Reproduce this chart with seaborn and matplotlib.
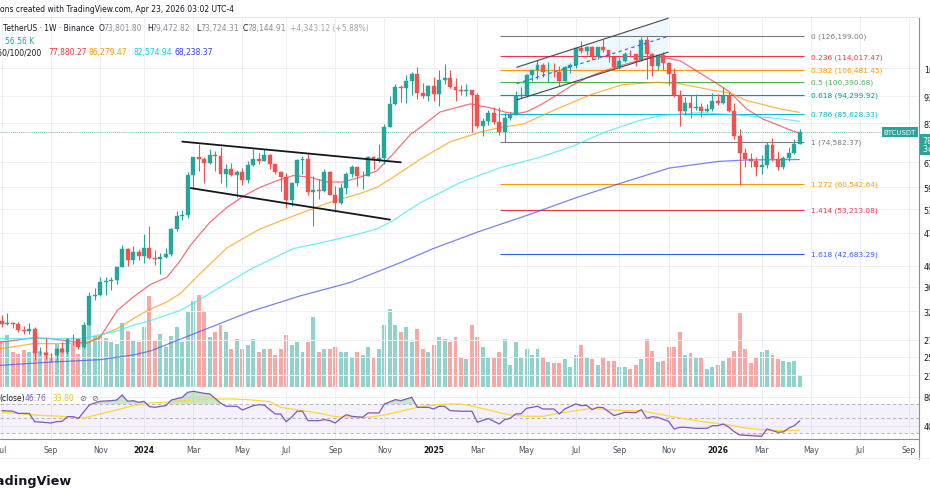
import matplotlib
matplotlib.use("Agg")
import matplotlib.pyplot as plt
import numpy as np
import pandas as pd
import seaborn as sns
from matplotlib.lines import Line2D
from matplotlib.patches import Rectangle
from matplotlib.ticker import NullLocator, NullFormatter

sns.set_theme(style="white")
plt.rcParams["font.family"] = ["DejaVu Sans"]

# weekly BTCUSDT candles in k USDT, week 0 = Mon 2024-01-01
first_week = -26
opens = [30.59, 30.17, 30.28, 30.08, 29.28, 29.05, 29.40, 26.09, 26.10, 25.83,
         25.78, 26.53, 26.25, 27.96, 27.93, 26.86, 29.98, 34.52, 34.73, 37.06,
         37.36, 37.45, 39.97, 43.79, 41.38, 42.99, 42.28, 43.94, 41.73, 41.58,
         42.03, 42.58, 48.30, 51.57, 51.73, 63.11, 68.95, 68.38, 67.21, 69.65,
         69.36, 63.43, 64.94, 63.12, 64.01, 61.48, 66.27, 68.51, 67.77, 69.65,
         66.64, 64.25, 62.68, 55.85, 60.80, 68.16, 68.25, 58.12, 58.72, 58.43,
         64.18, 57.30, 54.84, 59.13, 63.57, 65.60, 62.82, 62.86, 69.03, 67.94,
         68.74, 80.37, 89.85, 97.90, 97.18, 101.11, 104.46, 95.20, 93.71, 98.30,
         94.50, 101.33, 102.60, 97.70, 96.46, 96.12, 96.26, 94.27, 80.73, 82.60,
         86.08, 82.38, 78.37, 83.76, 85.18, 93.75, 94.30, 104.12, 106.45, 109.00,
         105.60, 105.70, 105.50, 100.90, 108.30, 109.20, 119.10, 117.30, 119.45, 114.20,
         119.30, 117.50, 113.50, 108.25, 111.15, 115.30, 115.25, 112.15, 123.50, 115.10,
         108.65, 114.55, 110.55, 104.70, 94.26, 86.83, 90.36, 88.17, 88.46, 86.80,
         87.80, 91.30, 90.60, 93.50, 87.00, 76.90, 70.40, 68.30, 67.70, 65.90,
         66.30, 73.40, 68.30, 65.90, 68.80, 70.40, 73.80]
highs = [31.50, 31.80, 30.43, 30.33, 29.75, 30.24, 29.68, 26.80, 28.14, 26.10,
         26.77, 27.48, 28.05, 28.58, 28.00, 30.35, 35.28, 35.98, 37.98, 37.98,
         38.00, 40.00, 44.49, 43.90, 44.40, 43.82, 47.00, 48.97, 43.58, 42.84,
         43.88, 48.59, 52.82, 52.98, 64.00, 69.00, 73.78, 68.95, 71.77, 71.29,
         72.80, 66.87, 67.23, 64.75, 65.50, 67.70, 71.98, 70.60, 71.95, 70.20,
         66.80, 64.45, 63.80, 61.00, 68.37, 69.40, 70.08, 62.75, 61.80, 65.05,
         64.50, 59.80, 60.67, 64.13, 66.50, 65.62, 64.48, 69.40, 69.52, 73.62,
         81.50, 93.48, 99.59, 98.87, 104.00, 105.25, 108.35, 99.96, 99.00, 102.70,
         106.40, 109.59, 106.46, 102.50, 98.80, 99.50, 96.50, 95.00, 84.00, 87.45,
         88.77, 88.50, 86.10, 86.43, 95.75, 97.90, 104.35, 106.60, 111.98, 110.40,
         110.60, 110.50, 108.95, 108.50, 110.50, 119.50, 123.22, 120.25, 119.80, 119.30,
         124.47, 117.60, 113.60, 113.40, 116.80, 117.90, 115.40, 125.70, 126.20, 115.95,
         114.00, 116.40, 110.80, 107.50, 96.60, 93.10, 94.10, 94.60, 90.50, 90.00,
         94.80, 94.50, 97.90, 95.50, 90.50, 79.30, 72.30, 70.50, 69.20, 69.80,
         74.50, 76.00, 71.30, 69.50, 72.50, 75.50, 79.47]
lows = [29.70, 29.95, 29.50, 28.86, 28.58, 28.70, 25.17, 25.80, 25.33, 24.90,
        24.90, 26.00, 25.99, 27.16, 26.54, 26.70, 29.90, 33.90, 34.53, 34.80,
        35.63, 36.70, 39.97, 40.22, 40.53, 41.30, 40.75, 41.50, 40.28, 38.55,
        41.80, 42.25, 47.70, 50.52, 50.90, 59.00, 64.50, 60.77, 66.80, 64.49,
        60.66, 59.60, 62.79, 56.55, 60.19, 60.75, 66.10, 66.60, 67.61, 65.08,
        63.38, 58.40, 53.50, 54.26, 59.80, 63.45, 57.12, 49.00, 56.08, 58.10,
        57.20, 52.55, 54.56, 57.50, 62.65, 59.83, 58.95, 62.82, 65.07, 67.45,
        66.83, 80.25, 89.38, 90.79, 90.50, 94.15, 92.23, 92.60, 91.30, 91.20,
        89.25, 99.50, 97.30, 91.20, 94.09, 93.40, 78.25, 80.00, 76.60, 81.15,
        81.60, 77.15, 74.51, 83.00, 85.14, 92.80, 93.38, 100.70, 102.00, 103.00,
        100.37, 102.70, 98.20, 100.90, 105.00, 107.45, 115.70, 114.70, 112.00, 112.65,
        116.80, 110.70, 107.30, 107.25, 110.60, 114.40, 108.60, 111.50, 102.00, 103.50,
        106.60, 106.30, 98.95, 93.00, 80.60, 85.27, 83.80, 87.50, 84.45, 86.50,
        87.00, 89.50, 90.00, 86.50, 75.50, 60.00, 65.80, 65.60, 62.90, 63.50,
        65.50, 67.90, 64.80, 65.20, 67.60, 70.00, 73.72]
closes = [30.17, 30.28, 30.08, 29.28, 29.05, 29.40, 26.09, 26.10, 25.83, 25.78,
          26.53, 26.25, 27.96, 27.93, 26.86, 29.98, 34.52, 34.73, 37.06, 37.36,
          37.45, 39.97, 43.79, 41.38, 42.99, 42.28, 43.94, 41.73, 41.58, 42.03,
          42.58, 48.30, 51.57, 51.73, 63.11, 68.95, 68.38, 67.21, 69.65, 69.36,
          63.43, 64.94, 63.12, 64.01, 61.48, 66.27, 68.51, 67.77, 69.65, 66.64,
          64.25, 62.68, 55.85, 60.80, 68.16, 68.25, 58.12, 58.72, 58.43, 64.18,
          57.30, 54.84, 59.13, 63.57, 65.60, 62.82, 62.86, 69.03, 67.94, 68.74,
          80.37, 89.85, 97.90, 97.18, 101.11, 104.46, 95.20, 93.71, 98.30, 94.50,
          101.33, 102.60, 97.70, 96.46, 96.12, 96.26, 94.27, 80.73, 82.60, 86.08,
          82.38, 78.37, 83.76, 85.18, 93.75, 94.30, 104.12, 106.45, 109.00, 105.60,
          105.70, 105.50, 100.90, 108.30, 109.20, 119.10, 117.30, 119.45, 114.20, 119.30,
          117.50, 113.50, 108.25, 111.15, 115.30, 115.25, 112.15, 123.50, 115.10, 108.65,
          114.55, 110.55, 104.70, 94.26, 86.83, 90.36, 88.17, 88.46, 86.80, 87.80,
          91.30, 90.60, 93.50, 87.00, 76.90, 70.40, 68.30, 67.70, 65.90, 66.30,
          73.40, 68.30, 65.90, 68.80, 70.40, 73.80, 78.14]
volume_k = [221, 244, 165, 155, 174, 165, 212, 169, 165, 141,
            202, 183, 226, 202, 155, 287, 296, 240, 240, 230,
            212, 202, 301, 263, 221, 212, 282, 428, 216, 249,
            188, 240, 282, 212, 352, 404, 432, 357, 235, 258,
            291, 258, 179, 226, 179, 197, 226, 165, 179, 179,
            150, 179, 244, 197, 212, 165, 212, 329, 165, 179,
            179, 188, 165, 165, 141, 165, 150, 188, 141, 179,
            291, 367, 291, 258, 282, 212, 273, 179, 165, 197,
            235, 226, 212, 235, 141, 132, 291, 235, 188, 141,
            141, 165, 226, 103, 212, 141, 179, 150, 179, 141,
            118, 113, 113, 132, 94, 150, 197, 141, 132, 103,
            141, 122, 122, 94, 94, 85, 103, 132, 226, 169,
            118, 122, 188, 188, 258, 150, 160, 141, 141, 85,
            94, 103, 122, 141, 169, 348, 179, 113, 141, 165,
            174, 150, 132, 122, 118, 122, 56.56]

# moving averages (week, k USDT)
ma20_weeks = [-26.3, -20.3, -17.2, -12.3, -10.4, -8.1, -4.9, -2.0, 1.1, 4.2, 6.6, 8.4, 12.1,
              15.2, 18.1, 21.2, 24.3, 27.3, 30.4, 33.5, 36.4, 39.5, 42.6, 45.6, 48.7, 50.5,
              54.2, 59.7, 63.3, 66.4, 68.3, 70.1, 72.5, 75.6, 78.5, 81.6, 84.7, 87.6, 90.8,
              93.9, 98.1, 101.7, 105.9, 107.2, 110.3, 113.3, 116.4, 118.2, 119.9]
ma20_vals = [27.5, 28.1, 28.0, 27.5, 27.4, 28.1, 32.2, 34.4, 36.6, 38.0, 41.2, 44.4, 50.0,
             53.8, 56.8, 59.4, 61.4, 63.0, 62.5, 61.0, 61.0, 62.5, 64.5, 70.2, 77.2, 80.0,
             86.5, 90.0, 88.3, 86.2, 85.8, 86.6, 89.5, 94.1, 99.0, 103.2, 106.6, 109.2, 112.0,
             114.0, 111.6, 105.0, 97.8, 95.4, 87.7, 83.4, 80.7, 79.0, 77.88]
ma50_weeks = [-26.3, -20.3, -14.1, -10.4, -8.1, -4.9, -2.0, 1.1, 4.2, 6.6, 10.2, 15.2, 21.2,
              27.3, 33.5, 39.5, 42.6, 45.6, 50.5, 56.0, 61.5, 65.1, 69.4, 75.6, 81.6, 87.6,
              93.9, 98.1, 104.1, 107.2, 110.3, 116.4, 119.9]
ma50_vals = [26.6, 27.3, 27.3, 27.4, 28.4, 29.4, 30.9, 32.4, 33.6, 35.0, 38.6, 44.0, 48.3,
             51.5, 54.9, 57.6, 59.4, 62.5, 68.3, 74.5, 78.2, 80.0, 81.4, 87.8, 94.1, 99.1,
             100.2, 99.5, 96.3, 95.0, 91.5, 87.8, 86.28]
ma100_weeks = [-26.3, -11.2, -4.9, -2.0, 1.1, 6.6, 10.2, 19.4, 27.3, 33.5, 39.5, 42.6, 45.6,
               50.5, 57.8, 65.1, 72.5, 78.5, 84.7, 90.8, 95.0, 101.7, 110.3, 116.4, 119.9]
ma100_vals = [28.0, 28.0, 29.1, 29.9, 30.6, 32.2, 34.0, 39.5, 43.8, 45.4, 47.2, 48.3, 50.4,
              55.0, 60.8, 65.5, 69.0, 73.0, 78.5, 83.0, 85.0, 86.2, 84.9, 83.6, 82.57]
ma200_weeks = [-26.3, -17.2, -8.1, -2.0, 1.1, 6.6, 19.4, 28.5, 37.7, 46.8, 52.9, 61.1, 70.1,
               79.0, 87.1, 96.1, 105.1, 110.3, 119.9]
ma200_vals = [24.5, 24.9, 25.2, 25.8, 26.3, 27.9, 32.0, 34.6, 37.0, 40.8, 43.8, 47.6, 51.7,
              56.4, 60.6, 65.4, 67.6, 68.1, 68.24]

rsi_weeks = [-26, -24, -23, -21, -20, -17, -16, -15, -14, -13, -12, -10, -9, -8, -6, -5, -4,
             -3, -2, -1, 0, 1, 2, 4, 5, 7, 8, 9, 11, 12, 13, 14, 15, 17, 18, 20, 21, 22, 24,
             25, 26, 27, 28, 29, 30, 32, 33, 34, 35, 36, 37, 38, 40, 41, 43, 44, 46, 47, 49,
             50, 52, 53, 54, 55, 56, 58, 60, 61, 63, 65, 66, 67, 68, 69, 70, 72, 73, 75, 76,
             77, 79, 80, 81, 82, 83, 84, 86, 87, 88, 90, 91, 92, 93, 94, 96, 97, 98, 99, 101,
             103, 104, 105, 106, 107, 108, 109, 111, 113, 114, 116, 117, 118, 119, 120]
rsi_vals = [60.8, 60.0, 57.0, 57.0, 45.6, 43.8, 45.6, 46.0, 52.5, 52.5, 50.0, 68.6, 71.4, 73.7,
            74.6, 75.4, 82.4, 73.7, 74.6, 72.3, 73.7, 66.3, 65.4, 67.7, 75.4, 79.2, 86.0, 87.5,
            84.7, 84.0, 77.8, 71.4, 66.8, 66.8, 61.7, 67.7, 69.0, 68.5, 56.2, 56.2, 45.6, 51.6,
            60.0, 60.0, 47.0, 47.0, 48.4, 47.0, 43.8, 50.0, 55.3, 53.0, 51.6, 57.6, 57.6, 70.0,
            76.0, 74.6, 79.2, 65.4, 65.4, 63.1, 66.8, 66.8, 60.8, 60.0, 60.0, 44.7, 50.0, 42.4,
            48.4, 50.2, 56.2, 56.5, 64.0, 66.8, 63.1, 63.1, 56.2, 63.1, 70.0, 67.7, 68.0, 62.2,
            65.4, 65.0, 54.0, 56.2, 58.5, 58.0, 62.2, 50.2, 52.5, 51.6, 46.1, 35.5, 37.8, 37.8,
            36.4, 36.4, 40.1, 40.1, 42.4, 38.0, 31.8, 27.2, 26.3, 25.4, 35.5, 31.0, 31.5, 36.9,
            40.1, 46.76]
rsi_ma_weeks = [-26, -20, -14, -11, -8, -5, -2, 1, 4, 7, 10, 13, 16, 19, 23, 25, 29, 32, 35,
                38, 41, 44, 47, 50, 53, 56, 58, 61, 64, 67, 70, 73, 76, 79, 82, 85, 88, 91,
                94, 98, 101, 104, 107, 110, 113, 116, 120]
rsi_ma_vals = [58.5, 54.8, 52.5, 50.7, 56.2, 61.7, 67.7, 71.4, 72.3, 74.6, 76.0, 76.9, 76.9,
               76.0, 73.2, 65.4, 60.8, 57.2, 52.5, 51.6, 51.6, 54.8, 60.0, 65.4, 68.6, 70.0,
               70.0, 65.4, 60.0, 54.8, 53.0, 53.0, 57.2, 60.8, 64.0, 62.2, 60.8, 60.8, 56.2,
               50.7, 47.0, 43.8, 41.0, 36.9, 34.6, 33.3, 33.8]

# drawings
fib_levels = ["0", "0.236", "0.382", "0.5", "0.618", "0.786", "1", "1.272", "1.414", "1.618"]
fib_prices = [126199.00, 114017.47, 106481.45, 100390.68, 94299.92, 85628.33, 74582.37,
              60542.64, 53213.08, 42683.29]
fib_colors = ["#787b86", "#f23645", "#ff9800", "#4caf50", "#089981", "#00bcd4", "#787b86",
              "#ff9800", "#f23645", "#2962ff"]
fib_span = (65.1, 120.7)
flag_top = ([7.0, 47.0], [74.6, 67.3])
flag_bottom = ([8.55, 45.0], [59.2, 50.6])
channel_weeks = [68.2, 95.9]
channel_top = [108.0, 137.8]
channel_mid = [99.6, 126.0]
channel_bottom = [91.8, 116.4]
last_price = 78.14491
price_ticks = [107.6, 93.5, 81.7, 67.4, 59.5, 53.3, 47.4, 40.2, 36.2, 32.1, 27.8, 25.6, 23.3]

UP, DOWN = "#26a69a", "#ef5350"
W, H = 930, 502
PX_WEEK = 5.465
X_2024 = 144
RIGHT = 919


def fx(px):
    return px / W


def fy(py):
    return 1 - py / H


fig = plt.figure(figsize=(W / 100, H / 100), dpi=100)
fig.patch.set_facecolor("white")
main_rect = [0, fy(388), fx(RIGHT), (388 - 18) / H]
axv = fig.add_axes(main_rect)
ax = fig.add_axes(main_rect, sharex=axv)
axr = fig.add_axes([0, fy(440), fx(RIGHT), (440 - 388) / H], sharex=axv)
ax.set_facecolor("none")
axv.set_facecolor("white")
axr.set_facecolor("white")
axv.set_xlim(-X_2024 / PX_WEEK, (RIGHT - X_2024) / PX_WEEK)

weeks = np.arange(first_week, first_week + len(closes))
o, hi, lo, c = (np.array(a) for a in (opens, highs, lows, closes))
up = c >= o
cols = np.where(up, UP, DOWN)

# volume
axv.bar(weeks, volume_k, width=0.72, color=np.where(up, UP + "80", DOWN + "80"), lw=0)
axv.set_ylim(0, 1740)
axv.set_yticks([])
for s in axv.spines.values():
    s.set_visible(False)

# price pane
ax.set_yscale("log")
ax.set_ylim(22.0, 138.7)
ax.fill_between(channel_weeks, channel_bottom, channel_top, color="#4fb3e8", alpha=0.1, lw=0, zorder=1)
ax.hlines(np.array(fib_prices) / 1000, *fib_span, colors=fib_colors, lw=0.8, zorder=2)
for lvl, p, colr in zip(fib_levels, fib_prices, fib_colors):
    ax.text(fib_span[1] + 1.3, p / 1000, f"{lvl} ({p:,.2f})", color=colr, fontsize=5.3,
            va="center", ha="left", zorder=6)
ax.axhline(last_price, color=UP, lw=0.6, ls=(0, (1, 1.5)), zorder=2)

ma_df = pd.concat([
    pd.DataFrame({"week": ma20_weeks, "price": ma20_vals, "ma": "20"}),
    pd.DataFrame({"week": ma50_weeks, "price": ma50_vals, "ma": "50"}),
    pd.DataFrame({"week": ma100_weeks, "price": ma100_vals, "ma": "100"}),
    pd.DataFrame({"week": ma200_weeks, "price": ma200_vals, "ma": "200"}),
])
sns.lineplot(data=ma_df, x="week", y="price", hue="ma", estimator=None, legend=False, ax=ax,
             palette={"20": "#f23645", "50": "#ff9800", "100": "#33e8f5", "200": "#3d4ff0"},
             lw=0.9, alpha=0.7, zorder=3)

ax.vlines(weeks, lo, hi, colors=cols, lw=0.8, zorder=4)
ax.bar(weeks, c - o, bottom=o, width=0.72, color=cols, edgecolor=cols, lw=0.3, zorder=5)

ax.plot(*flag_top, color="#131722", lw=1.3, zorder=6)
ax.plot(*flag_bottom, color="#131722", lw=1.3, zorder=6)
ax.plot(channel_weeks, channel_top, color="#434651", lw=0.8, zorder=6)
ax.plot(channel_weeks, channel_bottom, color="#434651", lw=0.8, zorder=6)
ax.plot(channel_weeks, channel_mid, color="#2962ff", lw=0.8, ls=(0, (3, 3)), zorder=6)

ax.yaxis.tick_right()
ax.set_yticks(price_ticks)
ax.yaxis.set_minor_locator(NullLocator())
ax.yaxis.set_minor_formatter(NullFormatter())
ax.set_yticklabels([f"{v * 1000:,.2f}" for v in price_ticks])
ax.tick_params(axis="y", length=0, pad=3.5, labelsize=5.8, labelcolor="#131722")
ax.tick_params(axis="x", length=0, labelbottom=False)
axv.tick_params(axis="x", length=0, labelbottom=False)
ax.set_xlabel("")
ax.set_ylabel("")
ax.grid(True, color="#eef1f5", lw=0.7)
ax.spines["left"].set_visible(False)
for side in ("top", "bottom"):
    ax.spines[side].set_color("#e0e3eb")
    ax.spines[side].set_linewidth(0.8)
ax.spines["right"].set_color("#8c8f99")
ax.spines["right"].set_linewidth(0.8)

# RSI pane
axr.set_ylim(21.7, 93.4)
axr.axhspan(30, 70, color="#7e57c2", alpha=0.08, lw=0)
for lv in (70, 50, 30):
    axr.axhline(lv, color="#9598a1", lw=0.6, ls=(0, (4, 3)), alpha=0.8)
rw, rv = np.array(rsi_weeks), np.array(rsi_vals)
axr.fill_between(rw, rv, 70, where=rv >= 70, interpolate=True, color="#4caf50", alpha=0.3, lw=0)
axr.fill_between(rw, rv, 30, where=rv <= 30, interpolate=True, color="#f23645", alpha=0.2, lw=0)
sns.lineplot(x=rsi_ma_weeks, y=rsi_ma_vals, ax=axr, color="#fdd835", lw=0.9)
sns.lineplot(x=rsi_weeks, y=rsi_vals, ax=axr, color="#7e57c2", lw=0.9)
axr.yaxis.tick_right()
axr.set_yticks([80, 40])
axr.set_yticklabels(["80.00", "40.00"])
axr.tick_params(axis="y", length=0, pad=3.5, labelsize=5.8, labelcolor="#131722")
axr.set_xlabel("")
axr.set_ylabel("")

# month ticks at the first weekly bar of every other month
base = pd.Timestamp("2024-01-01")
months = pd.date_range("2023-07-01", "2026-09-01", freq="2MS")
mondays = [m + pd.Timedelta(days=(7 - m.weekday()) % 7) for m in months]
axr.set_xticks([(d - base).days / 7 for d in mondays])
axr.set_xticklabels([str(d.year) if d.month == 1 else d.strftime("%b") for d in mondays])
axr.tick_params(axis="x", length=0, pad=4, labelsize=5.5, labelcolor="#4c525e")
for lab, d in zip(axr.get_xticklabels(), mondays):
    if d.month == 1:
        lab.set_fontweight("bold")
        lab.set_color("#131722")
axr.grid(True, axis="x", color="#eef1f5", lw=0.7)
axr.grid(True, axis="y", color="#eef1f5", lw=0.7)
for side in ("top", "left"):
    axr.spines[side].set_visible(False)
for side in ("bottom", "right"):
    axr.spines[side].set_color("#8c8f99")
    axr.spines[side].set_linewidth(0.8)

fig.add_artist(Line2D([fx(RIGHT), fx(RIGHT)], [fy(440), fy(460)], color="#8c8f99", lw=0.8))
fig.add_artist(Line2D([0, 1], [fy(459), fy(459)], color="#eef1f5", lw=0.8))

# price labels on the right edge
fig.text(fx(900), fy(133), "BTCUSDT", color="white", fontsize=5, ha="center", va="center",
         bbox=dict(boxstyle="square,pad=0.3", fc=UP, ec="none"))
fig.add_artist(Rectangle((fx(919.5), fy(156)), fx(11), (156 - 135) / H, color=UP, lw=0))
fig.text(fx(922.5), fy(142), "78,144.91", color="white", fontsize=5.8, va="center")
fig.text(fx(922.5), fy(150), "3d 20h", color="white", fontsize=5.8, va="center")

# header
hdr = dict(fontsize=5.5, va="center", ha="left")
fig.text(fx(0), fy(10), "ons created with TradingView.com, Apr 23, 2026 03:02 UTC-4", color="#131722", **hdr)
fig.text(fx(3), fy(29), "TetherUS · 1W · Binance", color="#131722", **hdr)
for xp, key, val in [(99, "O", "73,801.80"), (147, "H", "79,472.82"),
                     (196, "L", "73,724.31"), (243, "C", "78,144.91")]:
    fig.text(fx(xp), fy(29), key, color="#131722", **hdr)
    fig.text(fx(xp + 4.5), fy(29), val, color="#8a8d96", **hdr)
fig.text(fx(290), fy(29), "+4,343.12 (+5.88%)", color="#a3a6af", **hdr)
fig.text(fx(5), fy(42), "56.56 K", color=UP, **hdr)
fig.text(fx(42), fy(53), "20/50/100/200", color="#131722", fontsize=5.5, va="center", ha="right")
for xp, val, colr in [(48, "77,880.27", "#f23645"), (88, "86,279.47", "#ff9800"),
                      (133, "82,574.94", "#00d0e8"), (174, "68,238.37", "#2a3cf5")]:
    fig.text(fx(xp), fy(53), val, color=colr, **hdr)

fig.text(fx(-1), fy(399), "(close)", color="#131722", **hdr)
fig.text(fx(25), fy(399), "46.76", color="#7e57c2", **hdr)
fig.text(fx(52), fy(399), "33.80", color="#e8c400", **hdr)
fig.text(fx(79), fy(399), "⊘", color="#6a6d78", fontsize=6, va="center")
fig.text(fx(91), fy(399), "⊘", color="#6a6d78", fontsize=6, va="center")

fig.text(fx(72), fy(482), "TradingView", color="#131722", fontsize=9.2, fontweight="bold",
         ha="right", va="center")

fig.savefig("out.png", dpi=100)
print("save png file: out.png")
